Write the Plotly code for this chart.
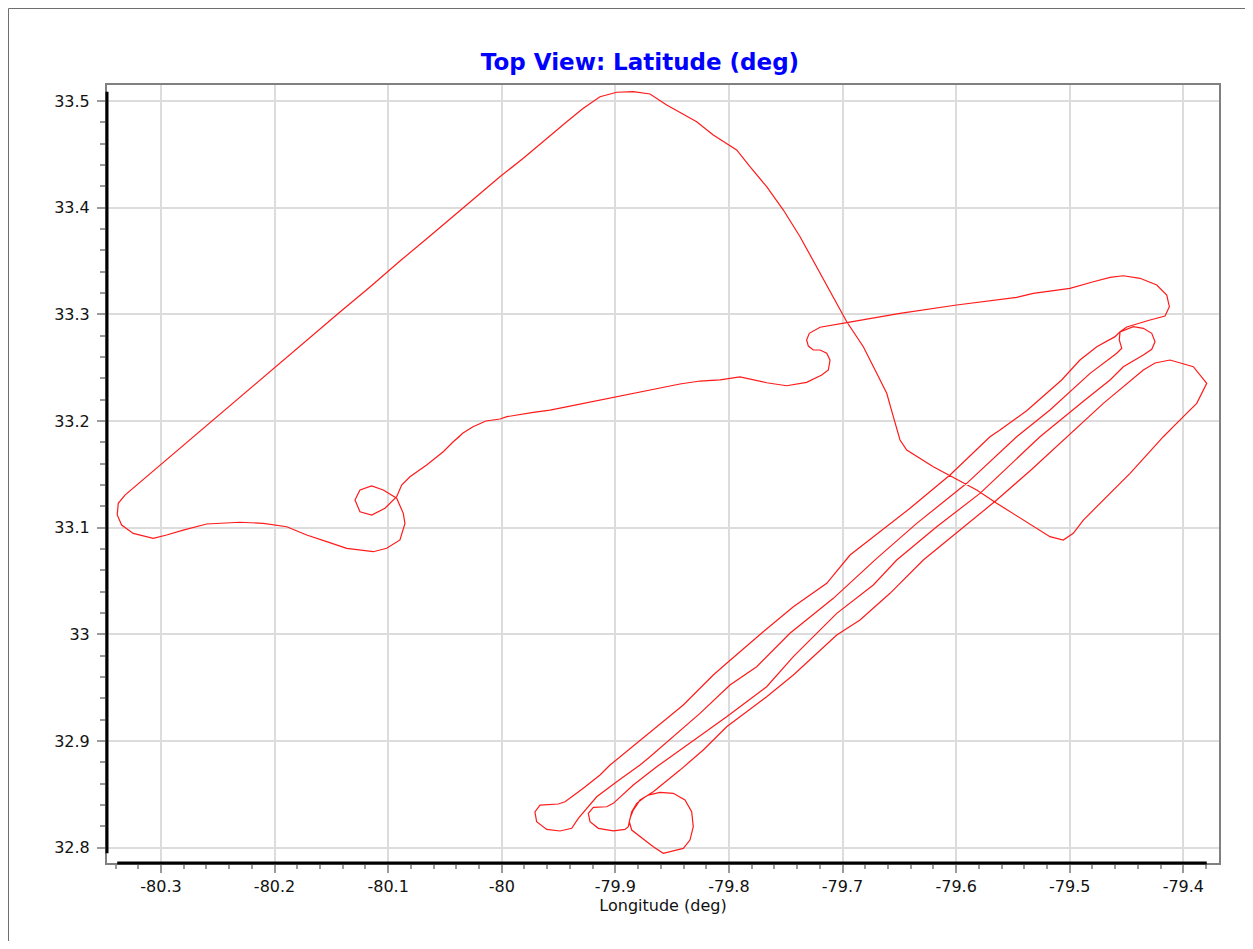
import plotly.graph_objects as go

# ---- Flight track (deg) ----
# Leg 1: departure point, eastbound transit to the north-east turn
leg1_lon = [-80.0429, -80.0341, -80.0253, -80.0139, -80.0016, -79.9954, -79.9722, -79.9575,
            -79.9443, -79.9223, -79.8959, -79.8695, -79.8431, -79.8255, -79.8079, -79.7903,
            -79.7668, -79.7492, -79.7316, -79.7183, -79.7125, -79.7110, -79.7139, -79.7198,
            -79.7257, -79.7301, -79.7316, -79.7293, -79.7198, -79.6963, -79.6787, -79.6494,
            -79.5995, -79.5467, -79.5321, -79.4998, -79.4792, -79.4645, -79.4528, -79.4381,
            -79.4234, -79.4146, -79.4123, -79.4161, -79.4293, -79.4410, -79.4498, -79.4557]
leg1_lat = [33.1803, 33.1888, 33.1947, 33.2000, 33.2019, 33.2041, 33.2082, 33.2103,
            33.2131, 33.2178, 33.2235, 33.2291, 33.2347, 33.2375, 33.2385, 33.2413,
            33.2359, 33.2331, 33.2363, 33.2431, 33.2478, 33.2572, 33.2635, 33.2666,
            33.2666, 33.2703, 33.2760, 33.2822, 33.2879, 33.2922, 33.2956, 33.3010,
            33.3088, 33.3160, 33.3197, 33.3244, 33.3306, 33.3347, 33.3362, 33.3338,
            33.3275, 33.3181, 33.3072, 33.2985, 33.2947, 33.2910, 33.2881, 33.2837]

# Leg 2: survey line 1 south-west, first southern turn
leg2_lon = [-79.4601, -79.4762, -79.4910, -79.5071, -79.5379, -79.5614, -79.5702, -79.6054,
            -79.6406, -79.6934, -79.7139, -79.7433, -79.7698, -79.8020, -79.8138, -79.8402,
            -79.8783, -79.8889, -79.9047, -79.9135, -79.9282, -79.9443, -79.9502, -79.9663,
            -79.9708, -79.9693, -79.9604, -79.9487, -79.9384, -79.9326, -79.9267]
leg2_lat = [33.2791, 33.2697, 33.2572, 33.2385, 33.2096, 33.1916, 33.1853, 33.1494,
            33.1182, 33.0744, 33.0479, 33.0259, 33.0025, 32.9729, 32.9619, 32.9338,
            32.9010, 32.8916, 32.8775, 32.8682, 32.8557, 32.8431, 32.8410, 32.8400,
            32.8337, 32.8244, 32.8172, 32.8157, 32.8182, 32.8276, 32.8353]

# Leg 3: survey line 2 north-east
leg3_lon = [-79.9164, -79.8988, -79.8783, -79.8695, -79.8255, -79.7991, -79.7756, -79.7463,
            -79.7081, -79.6699, -79.6347, -79.5907, -79.5467, -79.5174, -79.4821, -79.4586,
            -79.4542, -79.4564, -79.4557]
leg3_lat = [32.8478, 32.8619, 32.8775, 32.8853, 32.9260, 32.9525, 32.9697, 33.0010,
            33.0338, 33.0713, 33.1041, 33.1416, 33.1853, 33.2103, 33.2447, 33.2635,
            33.2682, 33.2760, 33.2835]

# Leg 4: small northern turn, survey line 3 south-west, second southern turn
leg4_lon = [-79.4440, -79.4352, -79.4278, -79.4249, -79.4278, -79.4352, -79.4528, -79.4645,
            -79.4866, -79.5077, -79.5262, -79.5433, -79.5790, -79.6171, -79.6523, -79.6729,
            -79.7051, -79.7433, -79.7668, -79.8020, -79.8372, -79.8636, -79.8842, -79.9018,
            -79.9076, -79.9194, -79.9238, -79.9223, -79.9150, -79.9018, -79.8915, -79.8886]
leg4_lat = [33.2884, 33.2869, 33.2822, 33.2744, 33.2672, 33.2619, 33.2509, 33.2385,
            33.2197, 33.2010, 33.1853, 33.1681, 33.1322, 33.1009, 33.0697, 33.0463,
            33.0197, 32.9791, 32.9509, 32.9228, 32.8963, 32.8759, 32.8588, 32.8416,
            32.8384, 32.8379, 32.8322, 32.8244, 32.8182, 32.8159, 32.8172, 32.8197]

# Leg 5: orbit at the southern end, survey line 4 north-east
leg5_lon = [-79.8871, -79.8842, -79.8783, -79.8710, -79.8607, -79.8490, -79.8387, -79.8328,
            -79.8314, -79.8343, -79.8402, -79.8578, -79.8666, -79.8783, -79.8856, -79.8877,
            -79.8856, -79.8812, -79.8739, -79.8666, -79.8431, -79.8226, -79.8020, -79.7668,
            -79.7433, -79.7051, -79.6846, -79.6582, -79.6289, -79.5966, -79.5643, -79.5341,
            -79.5027, -79.4704, -79.4352]
leg5_lat = [32.8276, 32.8353, 32.8447, 32.8494, 32.8519, 32.8510, 32.8447, 32.8337,
            32.8197, 32.8072, 32.7994, 32.7948, 32.8009, 32.8103, 32.8166, 32.8244,
            32.8337, 32.8416, 32.8475, 32.8525, 32.8728, 32.8916, 32.9134, 32.9416,
            32.9619, 32.9994, 33.0135, 33.0385, 33.0697, 33.0978, 33.1260, 33.1541,
            33.1853, 33.2166, 33.2478]

# Leg 6: eastern turn, return leg and northbound leg over the top
leg6_lon = [-79.4249, -79.4117, -79.3912, -79.3794, -79.3882, -79.4000, -79.4176, -79.4469,
            -79.4704, -79.4880, -79.4969, -79.5057, -79.5174, -79.5409, -79.5643, -79.5819,
            -79.6201, -79.6435, -79.6494, -79.6553, -79.6611, -79.6699, -79.6817, -79.6963,
            -79.7198, -79.7374, -79.7521, -79.7668, -79.7815, -79.7932, -79.8138, -79.8284,
            -79.8548, -79.8695, -79.8842, -79.8988, -79.9135, -79.9282, -79.9428, -79.9634,
            -79.9810, -80.0016]
leg6_lat = [33.2544, 33.2572, 33.2509, 33.2354, 33.2166, 33.2041, 33.1853, 33.1510,
            33.1260, 33.1072, 33.0947, 33.0885, 33.0916, 33.1072, 33.1229, 33.1353,
            33.1572, 33.1728, 33.1822, 33.2041, 33.2260, 33.2447, 33.2697, 33.2931,
            33.3385, 33.3728, 33.3978, 33.4197, 33.4384, 33.4541, 33.4681, 33.4806,
            33.4963, 33.5066, 33.5087, 33.5082, 33.5040, 33.4932, 33.4806, 33.4619,
            33.4463, 33.4290]

# Leg 7: south-west leg, western turn, loop and return to departure point
leg7_lon = [-80.0315, -80.0632, -80.0896, -80.1160, -80.1424, -80.1776, -80.2040, -80.2393,
            -80.2657, -80.3009, -80.3156, -80.3317, -80.3376, -80.3385, -80.3346, -80.3244,
            -80.3068, -80.2950, -80.2804, -80.2598, -80.2305, -80.2099, -80.1893, -80.1717,
            -80.1541, -80.1365, -80.1131, -80.1013, -80.0896, -80.0852, -80.0867, -80.0925,
            -80.1043, -80.1145, -80.1248, -80.1292, -80.1248, -80.1145, -80.1028, -80.0925,
            -80.0881, -80.0808, -80.0661, -80.0515, -80.0427, -80.0368]
leg7_lat = [33.4016, 33.3734, 33.3500, 33.3256, 33.3022, 33.2703, 33.2460, 33.2141,
            33.1897, 33.1578, 33.1447, 33.1306, 33.1229, 33.1119, 33.1025, 33.0947,
            33.0901, 33.0932, 33.0978, 33.1035, 33.1051, 33.1041, 33.1009, 33.0932,
            33.0869, 33.0807, 33.0775, 33.0807, 33.0885, 33.1041, 33.1135, 33.1276,
            33.1353, 33.1391, 33.1353, 33.1260, 33.1150, 33.1119, 33.1182, 33.1291,
            33.1400, 33.1478, 33.1588, 33.1712, 33.1806, 33.1860]

x_tick_vals = [-80.3, -80.2, -80.1, -80.0, -79.9, -79.8, -79.7, -79.6, -79.5, -79.4]
x_tick_text = ["-80.3", "-80.2", "-80.1", "-80", "-79.9", "-79.8", "-79.7", "-79.6", "-79.5", "-79.4"]
y_tick_vals = [32.8, 32.9, 33.0, 33.1, 33.2, 33.3, 33.4, 33.5]
y_tick_text = ["32.8", "32.9", "33", "33.1", "33.2", "33.3", "33.4", "33.5"]

lon = leg1_lon + leg2_lon + leg3_lon + leg4_lon + leg5_lon + leg6_lon + leg7_lon
lat = leg1_lat + leg2_lat + leg3_lat + leg4_lat + leg5_lat + leg6_lat + leg7_lat

# the page body adds an 8px offset, so the figure is sized to fit inside it
W, H = 1237, 933
ML, MR, MT, MB = 99, 26, 77, 78
PW, PH = W - ML - MR, H - MT - MB

fig = go.Figure()
fig.add_trace(go.Scatter(x=lon, y=lat, mode="lines",
                         line=dict(color="#ff1a1a", width=1.2),
                         name="Latitude (deg)", showlegend=False))

FONT = "DejaVu Sans, Verdana, sans-serif"
tick_font = dict(family=FONT, size=16, color="#111111")
common = dict(showgrid=True, gridcolor="#dcdcdc", gridwidth=2,
              showline=True, linecolor="#808080", linewidth=2, mirror=True,
              ticks="outside", ticklen=8, tickwidth=2, tickcolor="#9a9a9a",
              tickfont=tick_font, zeroline=False, tickmode="array")

fig.update_xaxes(range=[-80.3475, -79.3686], tickvals=x_tick_vals, ticktext=x_tick_text,
                 minor=dict(tickmode="linear", tick0=-80.3, dtick=0.02, ticks="outside",
                            ticklen=4, tickwidth=2, tickcolor="#9a9a9a", showgrid=False),
                 title=dict(text="Longitude (deg)", standoff=3,
                            font=dict(family=FONT, size=16, color="#111111")),
                 **common)
fig.update_yaxes(range=[32.7857, 33.5150], tickvals=y_tick_vals, ticktext=y_tick_text,
                 ticklabelstandoff=4,
                 minor=dict(tickmode="linear", tick0=32.8, dtick=0.02, ticks="outside",
                            ticklen=5, tickwidth=2, tickcolor="#9a9a9a", showgrid=False),
                 **common)

# heavy black axis lines spanning the data extent (as in the source chart)
fig.add_shape(type="line", xref="paper", yref="y", x0=0, x1=0,
              y0=min(lat), y1=max(lat), line=dict(color="black", width=3))
fig.add_shape(type="line", xref="x", yref="paper", x0=min(lon), x1=max(lon),
              y0=0, y1=0, line=dict(color="black", width=3))

# outer panel border: only the left and top edges are inside the page
bx0 = (0.5 - ML) / PW
by1 = (H - MB - 0.5) / PH
fig.add_shape(type="line", xref="paper", yref="paper", x0=bx0, x1=bx0,
              y0=-MB / PH, y1=by1, line=dict(color="#6e6e6e", width=1), layer="below")
fig.add_shape(type="line", xref="paper", yref="paper", x0=bx0, x1=(W - ML) / PW,
              y0=by1, y1=by1, line=dict(color="#6e6e6e", width=1), layer="below")

fig.update_layout(
    width=W, height=H,
    margin=dict(l=ML, r=MR, t=MT, b=MB),
    paper_bgcolor="white", plot_bgcolor="white",
    title=dict(text="<b>Top View: Latitude (deg)</b>", x=632 / W, xanchor="center",
               y=1 - 54 / H, yanchor="middle",
               font=dict(family=FONT, size=23, color="#0000ff")),
    showlegend=False,
)

fig.write_html("out.html")
